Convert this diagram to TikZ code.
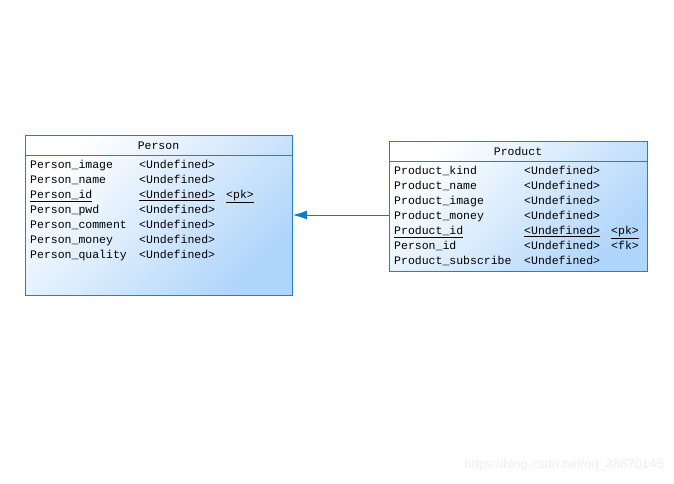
\documentclass[tikz,border=0pt]{standalone}
\usepackage{fontspec}
\setmainfont{Liberation Sans}
\newfontfamily\monofont{Liberation Mono}
\usetikzlibrary{arrows.meta}
\definecolor{edgeblue}{RGB}{30,130,205}
\definecolor{arrowblue}{RGB}{10,125,197}
\definecolor{fillblue}{RGB}{176,213,250}
\definecolor{wmgray}{RGB}{238,238,238}
\tikzset{
  tbl/.style={draw=edgeblue, line width=0.8pt, top color=white, bottom color=fillblue, shading angle=45},
  fld/.style={anchor=west, inner sep=0pt, yshift=-1.5pt, text height=8pt, text depth=2.5pt, font=\monofont\fontsize{11.5}{12}\selectfont},
  ttl/.style={anchor=center, inner sep=0pt, yshift=-1.5pt, text height=8pt, text depth=2.5pt, font=\monofont\fontsize{11.5}{12}\selectfont},
  conn/.style={draw=arrowblue, line width=0.8pt, -{Latex[length=14pt,width=9pt]}}
}
\begin{document}
\begin{tikzpicture}[x=1pt,y=-1pt]
\useasboundingbox (0,0) rectangle (674,483);
% Person table
\path[tbl] (25,135) rectangle (292,295);
\draw[edgeblue, line width=0.8pt] (25,155) -- (292,155);
\node[ttl] (ptitle) at (158.5,145) {Person};
\node[fld] (p1) at (30,164) {Person\_image};
\node[fld] (p2) at (30,179) {Person\_name};
\node[fld] (p3) at (30,194) {\underline{Person\_id}};
\node[fld] (p4) at (30,209) {Person\_pwd};
\node[fld] (p5) at (30,224) {Person\_comment};
\node[fld] (p6) at (30,239) {Person\_money};
\node[fld] (p7) at (30,254) {Person\_quality};
\node[fld] (pt1) at (139,164) {<Undefined>};
\node[fld] (pt2) at (139,179) {<Undefined>};
\node[fld] (pt3) at (139,194) {\underline{<Undefined>}};
\node[fld] (pt4) at (139,209) {<Undefined>};
\node[fld] (pt5) at (139,224) {<Undefined>};
\node[fld] (pt6) at (139,239) {<Undefined>};
\node[fld] (pt7) at (139,254) {<Undefined>};
\node[fld] (pk3) at (226,194) {\underline{<pk>}};
\coordinate (pright) at (293,215);
% Product table
\path[tbl] (389,141) rectangle (647,271);
\draw[edgeblue, line width=0.8pt] (389,161) -- (647,161);
\node[ttl] (rtitle) at (518,151) {Product};
\node[fld] (r1) at (394,170) {Product\_kind};
\node[fld] (r2) at (394,185) {Product\_name};
\node[fld] (r3) at (394,200) {Product\_image};
\node[fld] (r4) at (394,215) {Product\_money};
\node[fld] (r5) at (394,230) {\underline{Product\_id}};
\node[fld] (r6) at (394,245) {Person\_id};
\node[fld] (r7) at (394,260) {Product\_subscribe};
\node[fld] (rt1) at (524,170) {<Undefined>};
\node[fld] (rt2) at (524,185) {<Undefined>};
\node[fld] (rt3) at (524,200) {<Undefined>};
\node[fld] (rt4) at (524,215) {<Undefined>};
\node[fld] (rt5) at (524,230) {\underline{<Undefined>}};
\node[fld] (rt6) at (524,245) {<Undefined>};
\node[fld] (rt7) at (524,260) {<Undefined>};
\node[fld] (rk5) at (611,230) {\underline{<pk>}};
\node[fld] (rk6) at (611,245) {<fk>};
\coordinate (rleft) at (389,215);
% connector
\draw[conn] (rleft) -- (pright);
% watermark
\node[anchor=east, inner sep=0pt, text=wmgray, font=\fontsize{13}{14}\selectfont] (wm) at (664,465) {https://blog.csdn.net/qq\_38870145};
\end{tikzpicture}
\end{document}
